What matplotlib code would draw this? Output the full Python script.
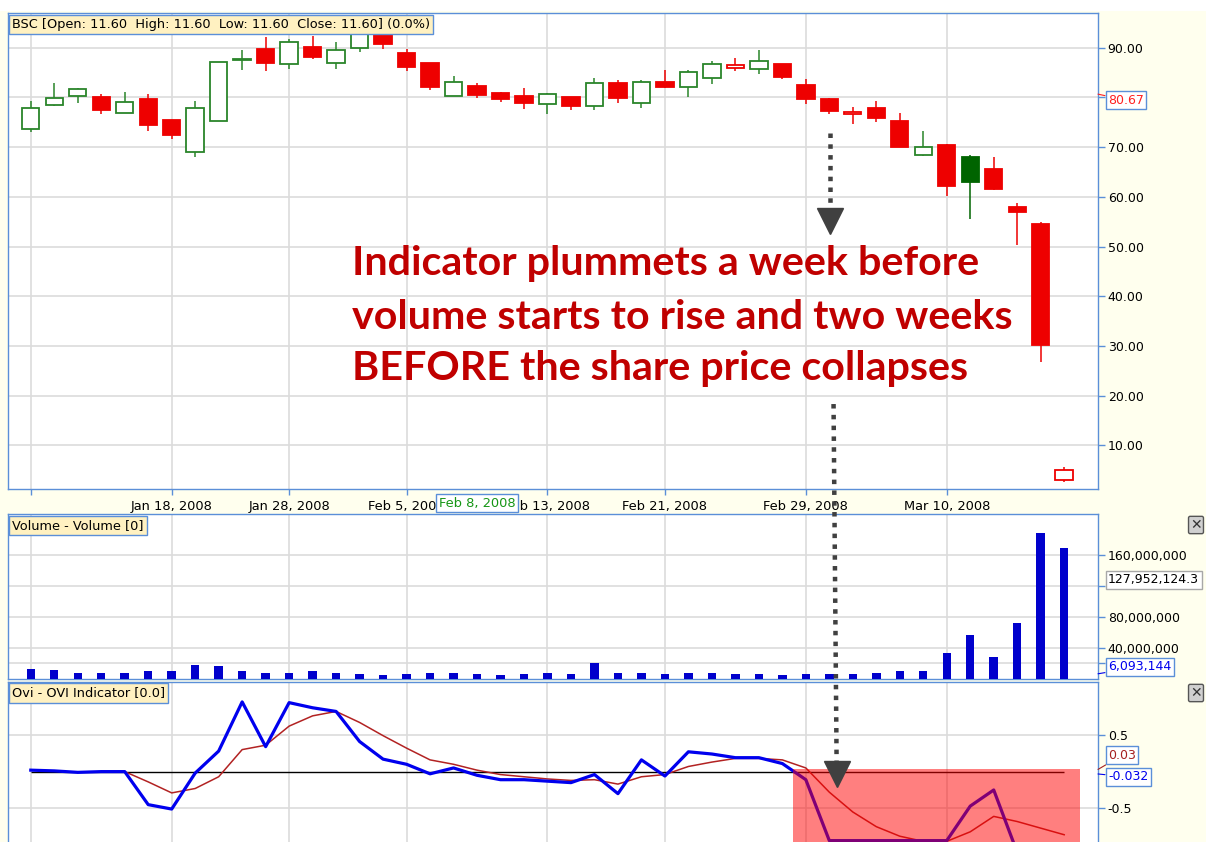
import numpy as np
import matplotlib
matplotlib.use('Agg')
from matplotlib import pyplot
from matplotlib.patches import ConnectionPatch, Rectangle


#data (BSC daily candles, volume, OVI):
opens  = [73.6, 78.5, 80.3, 80.1, 76.9, 79.6, 75.5, 69.1, 75.3, 87.5,
          89.8, 86.7, 90.1, 86.9, 90.0, 92.7, 89.0, 86.9, 80.2, 82.3,
          80.9, 80.3, 78.6, 80.1, 78.3, 82.9, 78.9, 83.2, 82.2, 83.9,
          85.9, 85.8, 86.8, 82.6, 79.6, 76.6, 77.9, 75.3, 68.5, 70.4,
          68.1, 65.7, 57.9, 54.5, 3.1]
highs  = [79.3, 83.0, 82.0, 80.7, 81.0, 80.7, 75.5, 79.3, 87.1, 89.5,
          92.1, 91.8, 92.4, 91.2, 93.2, 93.2, 89.7, 86.9, 84.3, 83.0,
          81.2, 82.0, 80.9, 80.1, 84.0, 83.5, 83.5, 85.5, 85.5, 87.4,
          88.0, 89.5, 86.8, 83.7, 79.9, 78.1, 79.3, 76.8, 73.2, 70.6,
          68.4, 68.0, 58.7, 54.9, 5.6]
lows   = [73.0, 78.3, 78.8, 76.6, 76.9, 73.2, 71.6, 68.0, 75.3, 85.5,
          85.3, 85.8, 87.7, 85.7, 89.1, 89.7, 85.4, 81.6, 80.2, 79.9,
          79.1, 77.7, 76.6, 77.5, 77.4, 78.8, 77.9, 81.9, 80.1, 82.7,
          85.3, 84.7, 83.8, 78.6, 76.6, 74.7, 75.0, 70.0, 68.2, 60.2,
          55.5, 61.3, 50.4, 26.8, 2.7]
closes = [77.9, 79.8, 81.8, 77.5, 79.0, 74.4, 72.4, 77.9, 87.1, 87.7,
          87.0, 91.1, 88.1, 89.5, 92.9, 90.8, 86.1, 82.2, 83.1, 80.5,
          79.6, 78.9, 80.6, 78.3, 82.9, 79.9, 83.2, 82.2, 85.2, 86.8,
          86.5, 87.3, 84.1, 79.6, 77.2, 77.1, 75.8, 70.0, 70.1, 62.2,
          63.0, 61.6, 56.9, 30.2, 5.0]
volume_m = [12.7, 11.0, 7.6, 7.6, 7.6, 9.3, 9.5, 18.1, 16.0, 9.5,
            7.3, 7.3, 9.5, 7.3, 5.6, 3.9, 5.6, 7.3, 7.3, 5.6,
            3.9, 5.6, 7.3, 5.6, 19.9, 7.3, 7.3, 5.6, 7.3, 7.3,
            5.6, 5.6, 3.9, 5.6, 5.6, 5.6, 7.3, 9.3, 9.3, 33.0,
            56.5, 27.6, 72.0, 188.0, 168.5]
ovi    = [0.02, 0.01, -0.01, 0.0, 0.0, -0.45, -0.51, -0.02, 0.28, 0.95,
          0.34, 0.94, 0.87, 0.82, 0.41, 0.17, 0.10, -0.03, 0.05, -0.05,
          -0.11, -0.11, -0.13, -0.15, -0.04, -0.30, 0.16, -0.06, 0.27, 0.24,
          0.19, 0.19, 0.11, -0.11, -0.94, -0.94, -0.94, -0.94, -0.94, -0.94,
          -0.47, -0.25, -1.10, -1.40, -1.30]
signal = [np.nan, np.nan, np.nan, np.nan, 0.0, -0.14, -0.29, -0.23, -0.07, 0.30,
          0.36, 0.62, 0.76, 0.82, 0.67, 0.49, 0.32, 0.16, 0.10, 0.02,
          -0.04, -0.07, -0.10, -0.12, -0.11, -0.17, -0.07, -0.04, 0.07, 0.13,
          0.18, 0.18, 0.16, 0.05, -0.28, -0.55, -0.75, -0.88, -0.95, -0.95,
          -0.82, -0.61, -0.68, -0.77, -0.86]

date_idx    = [0, 6, 11, 16, 22, 27, 33, 39]
date_labels = ['', 'Jan 18, 2008', 'Jan 28, 2008', 'Feb 5, 2008', 'Feb 13, 2008',
               'Feb 21, 2008', 'Feb 29, 2008', 'Mar 10, 2008']
cursor_idx, cursor_label = 19, 'Feb 8, 2008'

price_ticks = [10, 20, 30, 40, 50, 60, 70, 80, 90]
vol_ticks   = [20e6, 40e6, 80e6, 120e6, 160e6]
vol_labels  = ['', '40,000,000', '80,000,000', '', '160,000,000']
ovi_ticks   = [-0.5, 0.5]

last_price  = 80.67
cursor_vol  = 127952124.3
last_vol    = 6093144
ovi_sig_val, ovi_val = 0.03, -0.032

#highlighted zone in the indicator panel (index units / indicator units)
hl_start, hl_end, hl_top = 32.44, 44.67, 0.037

note = ['Indicator plummets a week before',
        'volume starts to rise and two weeks',
        'BEFORE the share price collapses']


#colours:
axis_blue = '#5B8FD8'
grid_c    = '#DCDCDC'
up_c      = '#2A852A'
down_c    = '#EE0000'
arrow_c   = '#404040'

pyplot.rcParams['font.family'] = 'DejaVu Sans'
pyplot.rcParams['font.size'] = 9

W, H = 1206, 842
fig = pyplot.figure(figsize=(W/100, H/100), dpi=100, facecolor='#FFFFEE')
fig.patches.append(Rectangle((0, 1-11/H), 1, 11/H, transform=fig.transFigure,
                             fc='white', ec='none', zorder=-5))

def px_rect(x0, y0, x1, y1):
    return [x0/W, 1 - y1/H, (x1-x0)/W, (y1-y0)/H]

ax_p = fig.add_axes(px_rect(8, 13, 1098, 489))
ax_v = fig.add_axes(px_rect(8, 514, 1098, 678.5), sharex=ax_p)
ax_o = fig.add_axes(px_rect(8, 681.5, 1098, 850), sharex=ax_p)

x = np.arange(len(closes))
o, h, l, c = map(np.array, (opens, highs, lows, closes))

for ax in (ax_p, ax_v, ax_o):
    ax.set_facecolor('white')
    for s in ax.spines.values():
        s.set_color(axis_blue)
        s.set_linewidth(1.0)
    ax.yaxis.tick_right()
    ax.tick_params(axis='y', colors=axis_blue, labelcolor='black', length=5,
                   width=1, pad=2, labelsize=9)
    ax.grid(True, color=grid_c, lw=1.2)
    ax.set_axisbelow(True)

ax_p.set_xlim(-0.97, 45.44)
ax_p.set_xticks(date_idx, date_labels)
ax_p.tick_params(axis='x', colors=axis_blue, labelcolor='black', length=4,
                 width=1, pad=4, labelsize=9.4)
for ax in (ax_v, ax_o):
    ax.tick_params(axis='x', bottom=False, labelbottom=False)

#candles:
prev   = np.r_[o[0], c[:-1]]
up     = c >= prev
filled = c < o
edges  = np.where(up, up_c, down_c).astype(object)
edges[filled & up] = '#006400'
faces  = np.where(filled, edges, 'white').astype(object)
ax_p.vlines(x, l, h, colors=list(edges), lw=1.1, zorder=2)
ax_p.bar(x, np.maximum(np.abs(c-o), 0.15), bottom=np.minimum(o, c), width=0.74,
         color=list(faces), edgecolor=list(edges), linewidth=1.3, zorder=3)
ax_p.set_ylim(1.2, 97.0)
ax_p.set_yticks(price_ticks, ['%.2f' % v for v in price_ticks])

#volume:
ax_v.bar(x, np.array(volume_m)*1e6, width=0.36, color='#0000CC', zorder=3)
ax_v.set_ylim(0, 213e6)
ax_v.set_yticks(vol_ticks, vol_labels)

#OVI:
ax_o.hlines(0, x[0], x[-1], color='black', lw=1, zorder=2)
ax_o.plot(x, signal, color='#B22222', lw=1.1, zorder=3)
ax_o.plot(x, ovi, color='#0000EE', lw=2.3, zorder=4)
ax_o.fill_between([hl_start, hl_end], -3, hl_top, color='red', alpha=0.5, lw=0, zorder=5)
ax_o.set_ylim(-1.068, 1.228)
ax_o.set_yticks(ovi_ticks, ['%g' % v for v in ovi_ticks])

#panel titles:
def panel_title(ax, txt):
    ax.annotate(txt, xy=(0, 1), xycoords='axes fraction', xytext=(4, -5),
                textcoords='offset pixels', ha='left', va='top', fontsize=9.3,
                bbox=dict(boxstyle='square,pad=0.25', fc='#FFF1C1', ec=axis_blue, lw=1),
                zorder=20)

panel_title(ax_p, 'BSC [Open: 11.60  High: 11.60  Low: 11.60  Close: 11.60] (0.0%)')
panel_title(ax_v, 'Volume - Volume [0]')
panel_title(ax_o, 'Ovi - OVI Indicator [0.0]')

#value tags on the right:
def value_tag(ax, y, txt, color, dy, ec=axis_blue, line=True):
    ax.annotate(txt, xy=(1, y), xycoords=('axes fraction', 'data'), xytext=(10, dy),
                textcoords='offset pixels', ha='left', va='center', color=color, fontsize=9,
                bbox=dict(boxstyle='square,pad=0.2', fc='white', ec=ec, lw=1),
                arrowprops=dict(arrowstyle='-', color=color, lw=0.8, shrinkA=0, shrinkB=0)
                if line else None, annotation_clip=False, zorder=20)

value_tag(ax_p, last_price, '%.2f' % last_price, '#FF2020', -6)
value_tag(ax_v, cursor_vol, '{:,.1f}'.format(cursor_vol), 'black', 0, ec='#A8A8A8', line=False)
value_tag(ax_v, last_vol, '{:,}'.format(last_vol), '#0000EE', 7)
value_tag(ax_o, ovi_sig_val, '%g' % ovi_sig_val, '#A52020', 14)
value_tag(ax_o, ovi_val, '%g' % ovi_val, '#0000EE', -3)

#cursor date box:
ax_p.annotate(cursor_label, xy=(cursor_idx, 0), xycoords=('data', 'axes fraction'),
              xytext=(0, -14), textcoords='offset pixels', ha='center', va='center',
              color='#169616', fontsize=9.4, annotation_clip=False, zorder=20,
              bbox=dict(boxstyle='square,pad=0.2', fc='white', ec=axis_blue, lw=1))

#close buttons:
for yy in (525, 693):
    fig.text(1196/W, 1-yy/H, '\u2715', ha='center', va='center', fontsize=10, color='#333333',
             bbox=dict(boxstyle='round,pad=0.12', fc='#D0D0D0', ec='#555555', lw=1))

#dotted arrows:
dots = (0, (1, 1.4))
ax_p.plot([34.03, 34.03], [72.84, 57.7], ls=dots, lw=3.24, color=arrow_c,
          dash_capstyle='butt', zorder=10)
ax_p.plot(34.03, 55.2, marker='v', ms=19, color=arrow_c, zorder=10)
con = ConnectionPatch(xyA=(34.18, 18.3), coordsA=ax_p.transData,
                      xyB=(34.31, 0.146), coordsB=ax_o.transData,
                      ls=dots, lw=3.24, color=arrow_c, zorder=10)
con.set_capstyle('butt')
fig.add_artist(con)
ax_o.plot(34.33, -0.031, marker='v', ms=19, color=arrow_c, zorder=10, clip_on=False)

#annotation text:
note_y = [44.27, 33.4, 23.1]
texts = [ax_p.text(13.67, yy, s, fontsize=26, family='Lato', weight='bold',
                   color='#C00000', ha='left', va='baseline', zorder=12)
         for s, yy in zip(note, note_y)]
fig.canvas.draw()
w = texts[1].get_window_extent().width
for t in texts:
    t.set_fontsize(26 * 660 / w)

fig.savefig('out.png', dpi=100, facecolor=fig.get_facecolor())
